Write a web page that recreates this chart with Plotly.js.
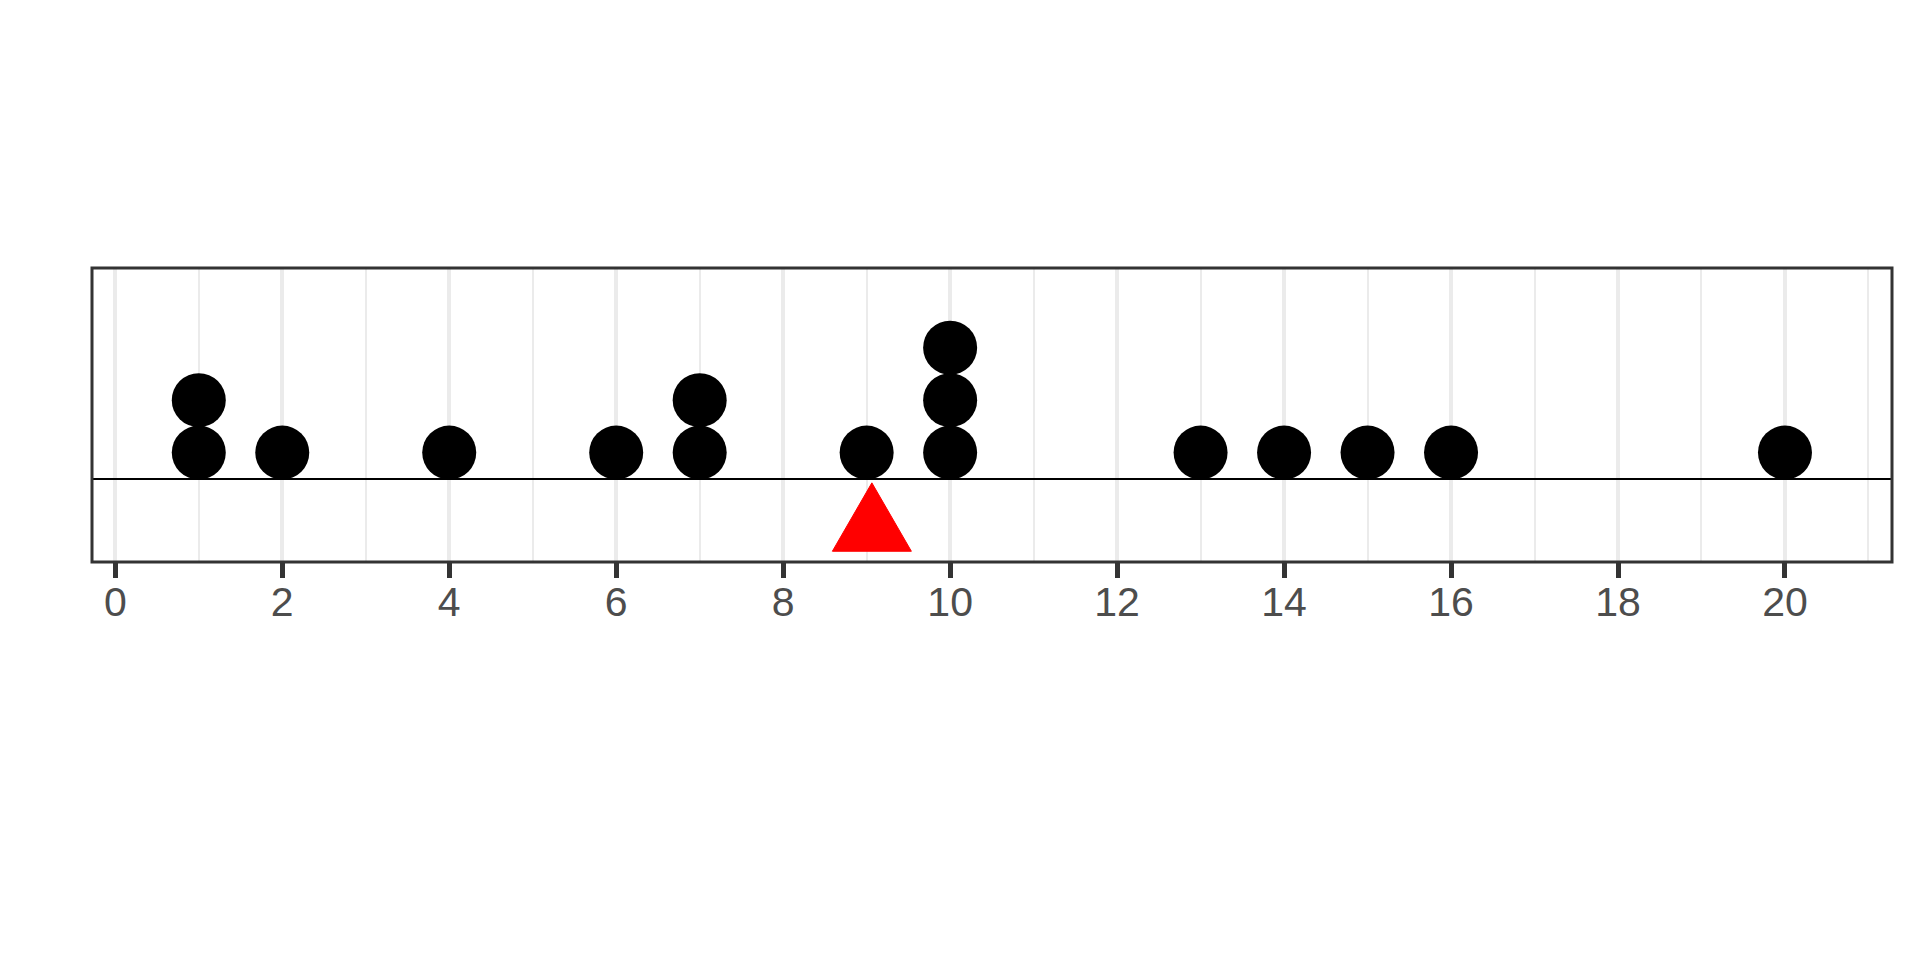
<!DOCTYPE html>
<html>
<head>
<meta charset="utf-8">
<script src="https://cdn.plot.ly/plotly-3.0.1.min.js"></script>
<style>
  html, body { margin: 0; padding: 0; background: #ffffff; }
  #chart { width: 1920px; height: 960px; }
</style>
</head>
<body>
<div id="chart"></div>
<script>
// Observed values (one dot per observation)
const values = [1, 1, 2, 4, 6, 7, 7, 9, 10, 10, 10, 13, 14, 15, 16, 20];
// Axis tick labels
const tickValues = [0, 2, 4, 6, 8, 10, 12, 14, 16, 18, 20];
const tickLabels = ["0", "2", "4", "6", "8", "10", "12", "14", "16", "18", "20"];

// Stack identical values into a dot plot
const counts = {};
const dotX = [];
const dotY = [];
values.forEach(v => {
  counts[v] = (counts[v] || 0) + 1;
  dotX.push(v);
  dotY.push(counts[v] - 0.5);
});

// Mean of the values (position of the red triangle)
const meanValue = values.reduce((a, b) => a + b, 0) / values.length;

const dots = {
  type: 'scatter',
  mode: 'markers',
  x: dotX,
  y: dotY,
  marker: { size: 54, color: '#000000', line: { width: 0 } },
  cliponaxis: false,
  hoverinfo: 'x',
  showlegend: false
};

const layout = {
  width: 1920,
  height: 960,
  paper_bgcolor: '#ffffff',
  plot_bgcolor: '#ffffff',
  margin: { l: 92, r: 28, t: 268, b: 397.5, pad: 0 },
  showlegend: false,
  xaxis: {
    range: [-0.279, 21.282],
    tickmode: 'array',
    tickvals: tickValues,
    ticktext: tickLabels,
    showgrid: true,
    gridcolor: '#ebebeb',
    gridwidth: 4,
    minor: { dtick: 1, tick0: 0, showgrid: true, gridcolor: '#ebebeb', gridwidth: 2, ticks: '' },
    zeroline: false,
    showline: false,
    ticks: 'outside',
    ticklen: 15,
    tickwidth: 5,
    tickcolor: '#333333',
    tickfont: { family: 'Liberation Sans, Arial, sans-serif', size: 41, color: '#4d4d4d' },
    ticklabelstandoff: -11,
    fixedrange: true
  },
  yaxis: {
    range: [-1.585, 4.019],
    showgrid: false,
    zeroline: true,
    zerolinecolor: '#000000',
    zerolinewidth: 2.5,
    showticklabels: false,
    ticks: '',
    showline: false,
    fixedrange: true
  },
  shapes: [
    {
      type: 'path',
      xref: 'x', yref: 'y',
      xsizemode: 'pixel', ysizemode: 'pixel',
      xanchor: meanValue, yanchor: 0,
      path: 'M-39.5,-72.4 L39.5,-72.4 L0,-4 Z',
      fillcolor: '#ff0000',
      line: { color: '#ff0000', width: 1 },
      layer: 'above'
    },
    {
      type: 'rect',
      xref: 'paper', yref: 'paper',
      x0: 0, x1: 1, y0: 0, y1: 1,
      line: { color: '#333333', width: 3 },
      fillcolor: 'rgba(0,0,0,0)',
      layer: 'above'
    }
  ]
};

Plotly.newPlot('chart', [dots], layout, { displayModeBar: false, staticPlot: true });
</script>
</body>
</html>
